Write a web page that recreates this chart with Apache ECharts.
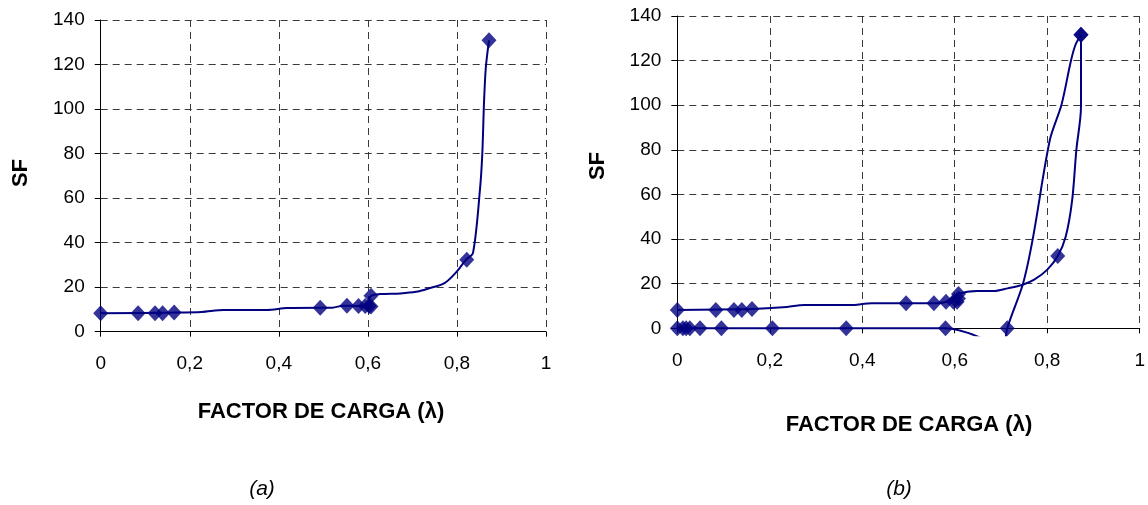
<!DOCTYPE html>
<html><head><meta charset="utf-8">
<script src="https://cdn.jsdelivr.net/npm/echarts@6/dist/echarts.min.js"></script>
<style>html,body{margin:0;padding:0;background:#fff}#c{width:1148px;height:505px}</style>
</head><body><div id="c"></div>
<script>
// ---- shared axis ticks ----
const xTickMin = 0, xTickMax = 1, xTickStep = 0.2;
const yTickMin = 0, yTickMax = 140, yTickStep = 20;

// ---- chart (a) ----
const aCurveLam = [0, 0.165, 0.227, 0.276, 0.373, 0.418, 0.493, 0.52, 0.545, 0.553, 0.579, 0.594, 0.607, 0.628, 0.673, 0.708, 0.736, 0.772, 0.800, 0.820, 0.836, 0.852, 0.857, 0.861, 0.865, 0.872];
const aCurveSF  = [8.3, 8.6, 8.9, 9.8, 9.8, 10.6, 10.8, 10.8, 11.7, 11.7, 11.5, 11.5, 16.1, 16.9, 17.2, 17.9, 19.4, 21.8, 27.1, 32.3, 35.3, 64.5, 80.2, 104, 119, 130.9];
const aMarkLam  = [0, 0.084, 0.122, 0.139, 0.165, 0.493, 0.553, 0.579, 0.594, 0.603, 0.607, 0.607, 0.822, 0.872];
const aMarkSF   = [8.3, 8.3, 8.3, 8.3, 8.6, 10.8, 11.7, 11.5, 11.5, 11.5, 11.3, 16.1, 32.3, 130.9];

// ---- chart (b) ----
const bUpperLam = [0, 0.161, 0.228, 0.275, 0.372, 0.419, 0.493, 0.553, 0.579, 0.606, 0.646, 0.681, 0.712, 0.743, 0.770, 0.798, 0.820, 0.837, 0.851, 0.860, 0.870, 0.870];
const bUpperSF  = [8.2, 8.7, 9.4, 10.4, 10.4, 11.2, 11.2, 11.2, 11.9, 15.4, 16.7, 16.7, 17.9, 19.4, 21.9, 26.4, 32.4, 41, 57.5, 79.9, 99.3, 131.6];
const bUpperMarkLam = [0, 0.083, 0.122, 0.139, 0.161, 0.493, 0.553, 0.579, 0.595, 0.603, 0.606, 0.606, 0.820, 0.870];
const bUpperMarkSF  = [8.2, 8.2, 8.2, 8.2, 8.7, 11.2, 11.2, 11.9, 11.9, 11.9, 13.4, 15.4, 32.4, 131.6];
const bLowerLam = [0, 0.012, 0.019, 0.027, 0.049, 0.095, 0.205, 0.364, 0.578, 0.66, 0.70, 0.711, 0.745, 0.766, 0.803, 0.828, 0.848, 0.858, 0.870];
const bLowerSF  = [0, 0, 0, 0, 0, 0, 0, 0, 0, -4.8, -11, 0, 20, 40, 84.5, 100.2, 119.6, 127, 131.6];
const bLowerMarkLam = [0, 0.012, 0.019, 0.027, 0.049, 0.095, 0.205, 0.364, 0.578, 0.711, 0.870];
const bLowerMarkSF  = [0, 0, 0, 0, 0, 0, 0, 0, 0, 0, 131.6];

const zip = (a, b) => a.map((v, i) => [v, b[i]]);
const NAVY = '#000080';
const FONT = '"Liberation Sans", Arial, sans-serif';

// plot rectangles
const gA = {left: 100.7, top: 20, width: 445.3, height: 311.7};
const gB = {left: 677.3, top: 16, width: 464, height: 312.3};
const extraPx = 7; // plot area in (b) extends a little below 0
const bNegMin = -extraPx * (yTickMax - yTickMin) / gB.height;

const splitStyle = {show: true, lineStyle: {color: '#3a3a3a', type: [7, 5], width: 1}};
function xAx(gi) {
  return {
    type: 'value', gridIndex: gi, min: xTickMin, max: xTickMax, interval: xTickStep,
    axisLine: {show: true, onZero: false, lineStyle: {color: '#000', width: 1}},
    axisTick: {show: true, length: 5, lineStyle: {color: '#000'}},
    axisLabel: {show: true, margin: 23, color: '#000', fontSize: 19, fontFamily: FONT,
      formatter: v => String(+v.toFixed(1)).replace('.', ',')},
    splitLine: splitStyle
  };
}
function yAx(gi) {
  return {
    type: 'value', gridIndex: gi, min: yTickMin, max: yTickMax, interval: yTickStep,
    axisLine: {show: true, onZero: false, lineStyle: {color: '#000', width: 1}},
    axisTick: {show: true, length: 6, lineStyle: {color: '#000'}},
    axisLabel: {show: true, margin: 16, color: '#000', fontSize: 19, fontFamily: FONT},
    splitLine: splitStyle
  };
}
const hiddenX = {type: 'value', gridIndex: 2, min: xTickMin, max: xTickMax, show: false, splitLine: {show: false}};
const hiddenY = {type: 'value', gridIndex: 2, min: bNegMin, max: yTickMax, show: false, splitLine: {show: false}};

function lineS(xi, yi, data) {
  return {type: 'line', xAxisIndex: xi, yAxisIndex: yi, data, showSymbol: false, symbol: 'none',
    smooth: 0.3, lineStyle: {color: NAVY, width: 2}, itemStyle: {color: NAVY}, clip: true, z: 2, silent: true, animation: false};
}
function markS(xi, yi, data) {
  return {type: 'scatter', xAxisIndex: xi, yAxisIndex: yi, data, symbol: 'diamond', symbolSize: [15, 16],
    itemStyle: {color: NAVY}, z: 3, clip: true, silent: true, animation: false};
}

function txt(text, x, y, font, rot) {
  return {type: 'text', x, y, rotation: rot || 0, z: 10,
    style: {text, font, fill: '#000', textAlign: 'center', textVerticalAlign: 'middle', verticalAlign: 'middle'}};
}

const chart = echarts.init(document.getElementById('c'), null, {renderer: 'canvas'});
chart.setOption({
  animation: false,
  backgroundColor: '#fff',
  grid: [
    {left: gA.left, top: gA.top, width: gA.width, height: gA.height, containLabel: false},
    {left: gB.left, top: gB.top, width: gB.width, height: gB.height, containLabel: false},
    {left: gB.left, top: gB.top, width: gB.width, height: gB.height + extraPx, containLabel: false}
  ],
  xAxis: [xAx(0), xAx(1), hiddenX],
  yAxis: [yAx(0), yAx(1), hiddenY],
  series: [
    lineS(0, 0, zip(aCurveLam, aCurveSF)),
    markS(0, 0, zip(aMarkLam, aMarkSF)),
    lineS(2, 2, zip(bUpperLam, bUpperSF)),
    lineS(2, 2, zip(bLowerLam, bLowerSF)),
    markS(2, 2, zip(bUpperMarkLam, bUpperMarkSF)),
    markS(2, 2, zip(bLowerMarkLam, bLowerMarkSF))
  ],
  graphic: [
    txt('SF', 21, 173, 'bold 22px ' + FONT, Math.PI / 2),
    txt('SF', 598, 166, 'bold 22px ' + FONT, Math.PI / 2),
    txt('FACTOR DE CARGA (λ)', 321, 412, 'bold 22px ' + FONT),
    txt('FACTOR DE CARGA (λ)', 909, 425, 'bold 22px ' + FONT),
    txt('(a)', 262, 489, 'italic 21px ' + FONT),
    txt('(b)', 899, 489, 'italic 21px ' + FONT)
  ]
});
</script>
</body></html>
